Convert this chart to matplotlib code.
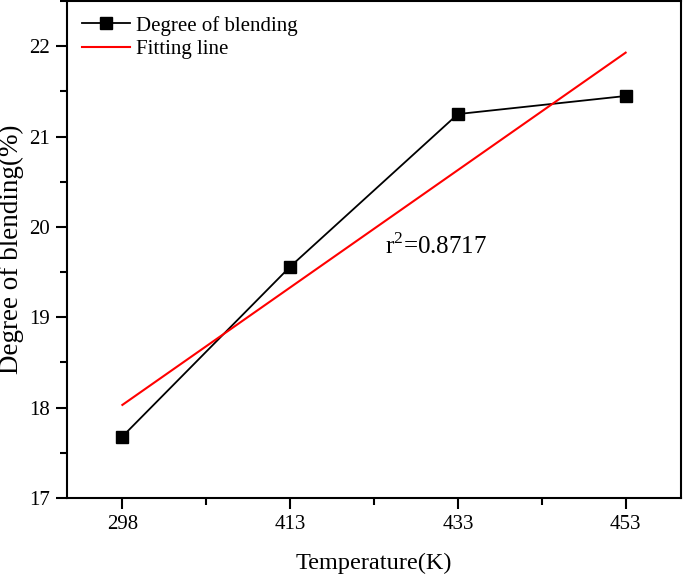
import numpy as np
import matplotlib.pyplot as plt
from matplotlib.ticker import MultipleLocator

plt.rcParams['font.family'] = ['Liberation Serif', 'DejaVu Serif']
plt.rcParams['mathtext.fontset'] = 'custom'
plt.rcParams['mathtext.rm'] = 'Liberation Serif'

# data
temps = ['298', '413', '433', '453']
blending = [17.68, 19.56, 21.25, 21.45]
fit_ends = [18.03, 21.93]  # fitted line at first / last category
r2_text = 'r$^2$=0.8717'

x = np.arange(len(temps))

fig = plt.figure(figsize=(6.86, 5.77), dpi=100)
ax = fig.add_axes([0.0977, 0.137, 0.895, 0.861])

ax.plot(x, blending, color='black', lw=1.3, marker='s', ms=8.5,
        label='Degree of blending')
ax.plot([x[0], x[-1]], fit_ends, color='red', lw=1.5, label='Fitting line')

ax.text(1.565, 19.79, r2_text, fontsize=18, ha='left', va='center')

ax.set_xlim(-0.33, 3.33)
ax.set_ylim(17, 22.5)
ax.set_xticks(x)
ax.set_xticklabels(temps)
ax.xaxis.set_minor_locator(MultipleLocator(0.5))
ax.yaxis.set_major_locator(MultipleLocator(1))
ax.yaxis.set_minor_locator(MultipleLocator(0.5))

ax.tick_params(which='major', direction='out', length=8, width=1.5,
               labelsize=15, pad=4)
ax.tick_params(which='minor', direction='out', length=5, width=1.5)
for sp in ax.spines.values():
    sp.set_linewidth(1.5)

ax.set_xlabel('Temperature(K)', fontsize=17.5, labelpad=14)
ax.set_ylabel('Degree of blending(%)', fontsize=19.5, labelpad=4)

ax.legend(loc='upper left', frameon=False, fontsize=15, handlelength=2.3,
          handletextpad=0.3, borderaxespad=0.3, labelspacing=0.2,
          bbox_to_anchor=(0.0, 1.0))

fig.savefig('out.png', dpi=100)
